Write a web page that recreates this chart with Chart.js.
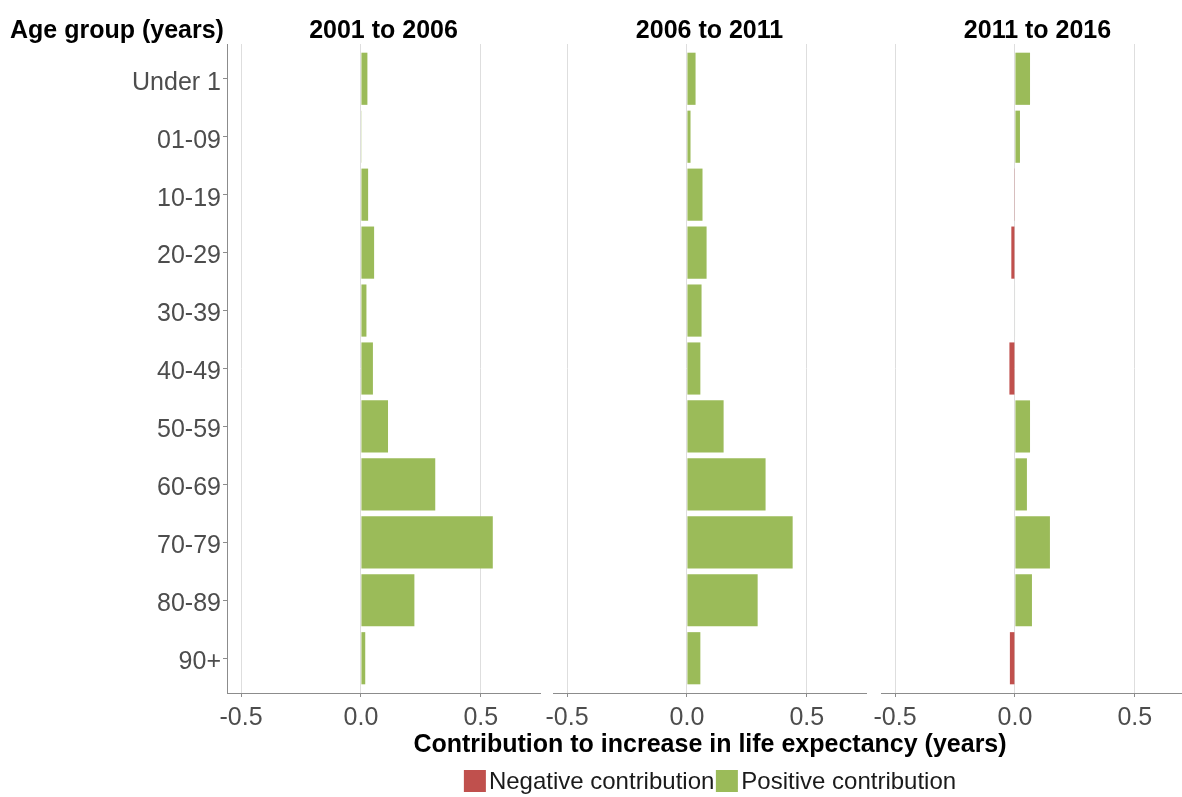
<!DOCTYPE html>
<html>
<head>
<meta charset="utf-8">
<script src="https://cdn.jsdelivr.net/npm/chart.js@4"></script>
<style>
  body {
    margin: 0;
    width: 1182px;
    height: 797px;
    overflow: hidden;
    background: #fff;
    position: relative;
    font-family: "Liberation Sans", Arial, sans-serif;
  }
  canvas { position: absolute; top: 0; }
  .label {
    position: absolute;
    white-space: nowrap;
    line-height: 25px;
    font-size: 25px;
    font-weight: bold;
    color: #000;
  }
  #legend {
    position: absolute;
    top: 769px;
    left: 711px;
    transform: translateX(-50%);
    display: flex;
    align-items: center;
    font-size: 24px;
    line-height: 24px;
    color: #1a1a1a;
    white-space: nowrap;
  }
  #legend .swatch { width: 22px; height: 22px; margin-right: 3px; }
  #legend .item { display: flex; align-items: center; margin-right: 2px; }
</style>
</head>
<body>
<canvas id="panel0" width="546" height="745" style="left:0px"></canvas>
<canvas id="panel1" width="349" height="745" style="left:523px"></canvas>
<canvas id="panel2" width="349" height="745" style="left:851px"></canvas>
<div class="label" style="left:10px; top:17px">Age group (years)</div>
<div class="label" style="left:710px; top:731px; transform:translateX(-50%)">Contribution to increase in life expectancy (years)</div>
<div id="legend"></div>

<script>
// age bands, top to bottom
const ageGroups = ['Under 1', '01-09', '10-19', '20-29', '30-39', '40-49',
                   '50-59', '60-69', '70-79', '80-89', '90+'];
const periods = ['2001 to 2006', '2006 to 2011', '2011 to 2016'];

// contribution to the change in life expectancy, years
const contrib2001to2006 = [0.027, 0.003, 0.030, 0.055, 0.023, 0.050, 0.113, 0.310, 0.550, 0.223, 0.018];
const contrib2006to2011 = [0.036, 0.015, 0.065, 0.082, 0.061, 0.056, 0.153, 0.328, 0.441, 0.295, 0.056];
const contrib2011to2016 = [0.063, 0.021, -0.003, -0.015, 0.002, -0.023, 0.063, 0.050, 0.146, 0.071, -0.021];

const xTicks = [-0.5, 0, 0.5];
const legendLabels = ['Negative contribution', 'Positive contribution'];

const NEG = '#C0504D';
const POS = '#9BBB59';
const AXIS = '#8c8c8c';
const GRID = '#dedede';
const TICK_TEXT = '#4d4d4d';

// every panel shares the same x range
const X_MIN = -0.5586;
const X_MAX = 0.7469;
const PANEL_LEFT = [227, 553, 881];
const PANEL_WIDTH = 313;

Chart.defaults.font.family = '"Liberation Sans", Arial, sans-serif';

// ggplot-style discrete padding: 0.6 of a band at each end instead of 0.5
function padCategories(scale) {
  scale._startValue -= 0.1;
  scale._valueRange += 0.2;
}

function makePanel(id, values, withAgeAxis) {
  const yScale = withAgeAxis ? {
    afterBuildTicks: padCategories,
    afterFit: s => { s.width = 227; },
    ticks: { color: TICK_TEXT, font: { size: 25 }, padding: 2, labelOffset: 4 },
    grid: { display: true, drawOnChartArea: false, offset: false, tickColor: AXIS, tickLength: 4 },
    border: { display: true, color: AXIS }
  } : {
    afterBuildTicks: padCategories,
    afterFit: s => { s.width = 0; },
    ticks: { display: false },
    grid: { display: false },
    border: { display: false }
  };

  return new Chart(document.getElementById(id), {
    type: 'bar',
    data: {
      labels: ageGroups,
      datasets: [{
        data: values,
        backgroundColor: values.map(v => v < 0 ? NEG : POS),
        barPercentage: 0.9,
        categoryPercentage: 1
      }]
    },
    options: {
      indexAxis: 'y',
      responsive: false,
      animation: false,
      layout: { padding: { top: 44, right: 6, bottom: 0, left: withAgeAxis ? 0 : 30 } },
      plugins: { legend: { display: false }, tooltip: { enabled: false } },
      scales: {
        x: {
          min: X_MIN,
          max: X_MAX,
          afterBuildTicks: s => { s.ticks = xTicks.map(v => ({ value: v })); },
          afterFit: s => { s.height = 52; },
          ticks: { color: TICK_TEXT, font: { size: 25 }, padding: 6, callback: v => v.toFixed(1) },
          grid: { color: GRID, tickColor: AXIS, tickLength: 4 },
          border: { display: true, color: AXIS }
        },
        y: yScale
      }
    }
  });
}

makePanel('panel0', contrib2001to2006, true);
makePanel('panel1', contrib2006to2011, false);
makePanel('panel2', contrib2011to2016, false);

// strip titles over each panel
periods.forEach((p, i) => {
  const d = document.createElement('div');
  d.className = 'label';
  d.textContent = p;
  d.style.left = (PANEL_LEFT[i] + PANEL_WIDTH / 2) + 'px';
  d.style.top = '17px';
  d.style.transform = 'translateX(-50%)';
  document.body.appendChild(d);
});

// legend
const legend = document.getElementById('legend');
[NEG, POS].forEach((c, i) => {
  const item = document.createElement('div');
  item.className = 'item';
  const sw = document.createElement('div');
  sw.className = 'swatch';
  sw.style.background = c;
  const txt = document.createElement('span');
  txt.textContent = legendLabels[i];
  item.appendChild(sw);
  item.appendChild(txt);
  legend.appendChild(item);
});
</script>
</body>
</html>
